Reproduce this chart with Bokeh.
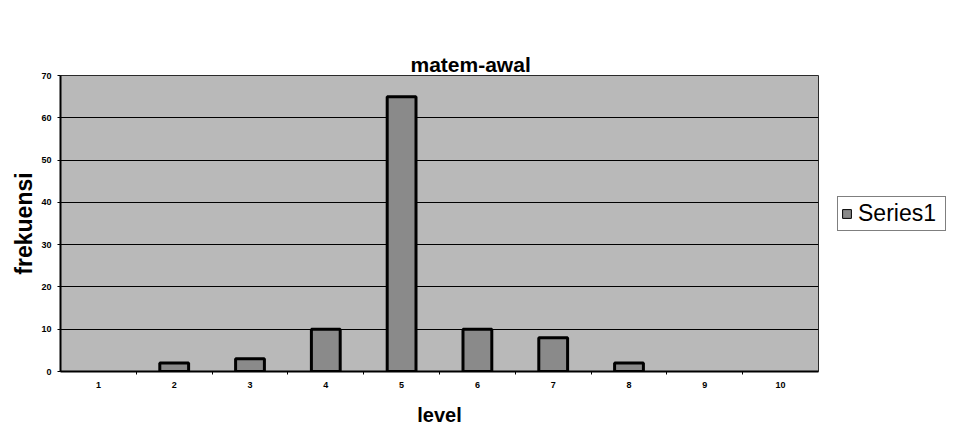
from bokeh.plotting import figure
from bokeh.layouts import row
from bokeh.models import Range1d, FixedTicker, Legend, LegendItem, ColumnDataSource, Title
from bokeh.embed import file_html
from bokeh.resources import INLINE

# ---- data ----
levels = [1, 2, 3, 4, 5, 6, 7, 8, 9, 10]
frekuensi = [0, 2, 3, 10, 65, 10, 8, 2, 0, 0]
y_ticks = [0, 10, 20, 30, 40, 50, 60, 70]
title_text = "matem-awal"
x_label = "level"
y_label = "frekuensi"
series_name = "Series1"

FONT = "Liberation Sans"
BAR_FILL = "#8a8a8a"

p = figure(frame_width=758, frame_height=296,
           output_backend="svg", toolbar_location=None,
           x_range=Range1d(0.5, 10.5), y_range=Range1d(0, 70),
           min_border_left=60, min_border_right=2,
           min_border_top=75, min_border_bottom=55)
p.title = None
p.background_fill_color = "#b9b9b9"
p.border_fill_color = "white"
p.outline_line_color = "#2a2a2a"
p.outline_line_width = 1

# title and an invisible spacer between it and the frame
p.add_layout(Title(text=title_text, align="left", offset=350, standoff=0,
                   text_font=FONT, text_font_style="bold",
                   text_font_size="21px", text_color="black"), "above")
p.add_layout(Title(text=".", standoff=45, text_font_size="1px", text_alpha=0.0), "above")

src = ColumnDataSource(dict(
    x=levels, top=frekuensi,
    lc=["black" if v > 0 else None for v in frekuensi],
))
r = p.vbar(x="x", top="top", width=0.38, source=src,
           fill_color=BAR_FILL, line_color="lc", line_width=3)

# grid
p.xgrid.visible = False
p.ygrid.ticker = FixedTicker(ticks=y_ticks)
p.ygrid.grid_line_color = "black"
p.ygrid.grid_line_width = 1

# y axis
ya = p.yaxis[0]
ya.ticker = FixedTicker(ticks=y_ticks)
ya.major_label_text_font = FONT
ya.major_label_text_font_style = "bold"
ya.major_label_text_font_size = "9px"
ya.major_label_text_color = "black"
ya.major_tick_out = 3
ya.major_tick_in = 0
ya.minor_tick_out = 0
ya.minor_tick_in = 0
ya.major_label_standoff = 6
ya.axis_line_width = 2
ya.axis_line_color = "black"
ya.axis_label = y_label
ya.axis_label_text_font = FONT
ya.axis_label_text_font_style = "bold"
ya.axis_label_text_font_size = "23px"
ya.axis_label_text_color = "black"
ya.axis_label_standoff = 1

# x axis
xa = p.xaxis[0]
xa.ticker = FixedTicker(ticks=levels, minor_ticks=[l + 0.5 for l in levels[:-1]])
xa.major_label_text_font = FONT
xa.major_label_text_font_style = "bold"
xa.major_label_text_font_size = "9px"
xa.major_label_text_color = "black"
xa.major_tick_out = 0
xa.major_tick_in = 0
xa.minor_tick_out = 3
xa.minor_tick_in = 0
xa.major_label_standoff = 7
xa.axis_line_width = 2
xa.axis_line_color = "black"
xa.axis_label = x_label
xa.axis_label_text_font = FONT
xa.axis_label_text_font_style = "bold"
xa.axis_label_text_font_size = "20px"
xa.axis_label_text_color = "black"
xa.axis_label_standoff = 13

# legend panel: a small companion figure to the right of the plot
pl = figure(width=133, height=426, output_backend="svg", toolbar_location=None,
            x_axis_location=None, y_axis_location=None,
            x_range=Range1d(20, 21), y_range=Range1d(0, 70),
            min_border_left=0, min_border_right=0,
            min_border_top=0, min_border_bottom=0)
pl.outline_line_color = None
pl.background_fill_color = "white"
pl.border_fill_color = "white"
pl.grid.visible = False
# same series, hidden here; it only supplies the legend swatch
sw = pl.vbar(x="x", top="top", width=0.38, source=src, fill_color=BAR_FILL,
             line_color="black", line_width=1)
sw.visible = False

legend = Legend(items=[LegendItem(label=series_name, renderers=[sw])],
                location=(17, 138),
                orientation="vertical", margin=0, padding=3, spacing=0,
                glyph_width=11, glyph_height=11, label_standoff=6,
                label_height=18, label_width=84,
                label_text_font=FONT, label_text_font_size="23px",
                label_text_color="black",
                inactive_fill_alpha=0.0,
                border_line_color="black", border_line_width=1.5,
                background_fill_color="white", background_fill_alpha=1.0)
pl.add_layout(legend, "center")

layout = row(p, pl, spacing=0)
open("out.html", "w").write(file_html(layout, INLINE))
